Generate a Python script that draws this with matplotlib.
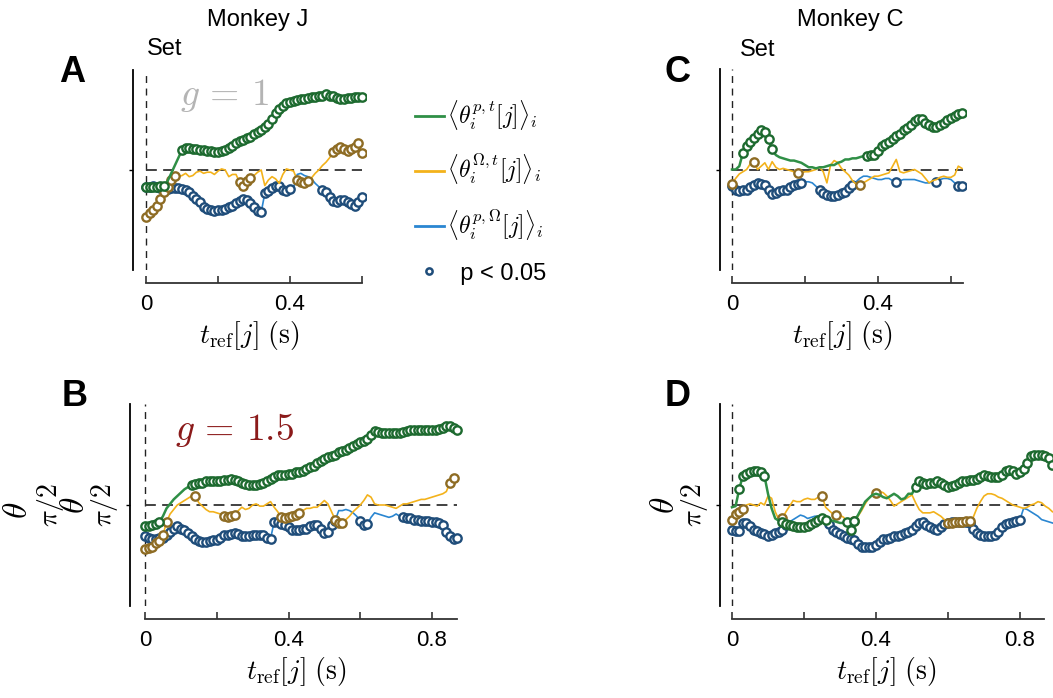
import numpy as np
import matplotlib.pyplot as plt
from matplotlib.lines import Line2D

plt.rcParams['font.family'] = ['Liberation Sans', 'DejaVu Sans']
plt.rcParams['mathtext.fontset'] = 'cm'

DT = 0.01  # sampling step of t_ref (s)

# angles in degrees, one value per DT starting at t = 0
# p,t = position/time ; O,t = Omega/time ; p,O = position/Omega

# A: Monkey J, g = 1
a_pt = [75, 75, 75, 75, 76, 76, 80, 87, 94, 101, 108, 110, 110, 109, 109, 108, 108, 107, 107, 106,
        106, 107, 108, 110, 112, 114, 116, 117, 119, 120, 122, 124, 126, 129, 131, 136, 141, 145, 148, 150,
        151, 152, 153, 154, 154, 155, 156, 156, 157, 157, 158, 157, 157, 155, 154, 154, 155, 155, 156, 156, 156]
a_ot = [48, 51, 54, 58, 64, 70, 75, 81, 85, 84, 85, 87, 84, 85, 88, 89, 87, 88, 88, 86,
        89, 91, 90, 84, 86, 86, 79, 76, 80, 83, 85, 88, 90, 76, 81, 84, 82, 78, 86, 91,
        90, 89, 81, 79, 78, 80, 83, 87, 90, 94, 97, 101, 106, 109, 111, 109, 107, 109, 111, 114, 105]
a_po = [75, 75, 76, 75, 74, 74, 73, 74, 74, 74, 73, 72, 70, 67, 64, 61, 57, 55, 54, 53,
        54, 54, 55, 57, 58, 60, 62, 64, 63, 60, 57, 53, 52, 69, 71, 74, 76, 76, 72, 71,
        73, 74, 86, 87, 85, 84, 82, 78, 75, 72, 70, 66, 62, 61, 63, 63, 61, 59, 58, 61, 66]
a_pt_sig = [(0.0, 0.05), (0.10, 0.60)]
a_ot_sig = [(0.0, 0.08), (0.26, 0.29), (0.42, 0.45), (0.52, 0.60)]
a_po_sig = [(0.0, 0.32), (0.33, 0.40), (0.49, 0.60)]

# B: Monkey J, g = 1.5
b_pt = [71, 71, 72, 73, 75, 80, 87, 91, 95, 98, 101, 104, 106, 108, 109, 110, 110, 111, 111, 111,
        111, 111, 112, 112, 113, 112, 111, 110, 109, 108, 108, 108, 109, 110, 111, 113, 115, 117, 117, 117,
        118, 118, 119, 119, 120, 122, 124, 125, 127, 129, 131, 133, 134, 135, 137, 138, 139, 141, 143, 144,
        146, 147, 149, 152, 156, 155, 154, 154, 154, 154, 154, 154, 155, 156, 157, 157, 157, 157, 157, 157,
        157, 157, 158, 159, 160, 160, 159, 157]
b_ot = [51, 52, 53, 56, 58, 63, 75, 82, 86, 90, 92, 94, 96, 98, 98, 92, 89, 86, 84, 84,
        83, 82, 80, 79, 80, 81, 85, 88, 86, 87, 90, 91, 89, 89, 91, 93, 88, 84, 79, 78,
        79, 80, 81, 83, 85, 87, 87, 88, 88, 91, 94, 91, 84, 77, 74, 74, 77, 80, 84, 87,
        90, 94, 99, 97, 91, 90, 90, 90, 89, 88, 87, 89, 91, 91, 92, 93, 94, 95, 95, 96,
        97, 98, 99, 100, 102, 110, 114, 111]
b_po = [62, 61, 60, 60, 61, 61, 63, 66, 69, 71, 69, 68, 65, 62, 60, 58, 57, 57, 58, 59,
        59, 61, 63, 63, 64, 65, 64, 62, 62, 62, 63, 63, 63, 63, 61, 60, 75, 75, 73, 72,
        70, 68, 68, 68, 69, 69, 71, 72, 72, 69, 65, 66, 72, 76, 85, 85, 86, 85, 83, 80,
        76, 72, 73, 79, 83, 82, 81, 80, 79, 80, 82, 80, 79, 78, 78, 77, 77, 76, 76, 76,
        75, 75, 74, 72, 66, 62, 60, 61]
b_pt_sig = [(0.0, 0.04), (0.13, 0.87)]
b_ot_sig = [(0.0, 0.06), (0.14, 0.14), (0.22, 0.25), (0.38, 0.43), (0.53, 0.55), (0.85, 0.86)]
b_po_sig = [(0.0, 0.35), (0.36, 0.53), (0.60, 0.62), (0.72, 0.87)]

# C: Monkey C, g = 1
c_pt = [90, 90, 93, 105, 111, 115, 118, 122, 125, 124, 117, 108, 103, 101, 100, 99, 98, 98, 97, 96,
        94, 92, 92, 91, 92, 92, 93, 94, 94, 96, 97, 99, 99, 100, 100, 101, 102, 102, 103, 103,
        107, 111, 113, 115, 117, 120, 122, 125, 127, 130, 133, 135, 135, 132, 130, 128, 128, 130, 132, 134,
        136, 138, 140, 141]
c_ot = [77, 82, 86, 88, 90, 95, 97, 90, 93, 96, 90, 97, 92, 90, 91, 90, 89, 88, 87, 87,
        88, 88, 89, 90, 92, 88, 78, 94, 98, 96, 91, 88, 85, 80, 77, 76, 78, 80, 82, 84,
        84, 85, 86, 87, 93, 99, 88, 87, 88, 89, 90, 88, 86, 82, 78, 80, 81, 83, 84, 83,
        83, 85, 93, 91]
c_po = [75, 72, 71, 72, 72, 74, 76, 78, 77, 76, 72, 68, 69, 71, 72, 72, 74, 76, 77, 78,
        79, 79, 78, 75, 72, 69, 67, 66, 66, 67, 69, 70, 73, 76, 79, 82, 84, 84, 83, 82,
        81, 81, 82, 82, 80, 79, 80, 81, 81, 81, 81, 80, 79, 78, 78, 79, 79, 81, 82, 82,
        81, 78, 75, 75]
c_pt_sig = [(0.03, 0.11), (0.37, 0.63)]
c_ot_sig = [(0.0, 0.0), (0.06, 0.06), (0.18, 0.18), (0.35, 0.35)]
c_po_sig = [(0.0, 0.19), (0.24, 0.33), (0.45, 0.45), (0.56, 0.56), (0.62, 0.63)]

# D: Monkey C, g = 1.5
d_pt = [88, 89, 104, 116, 118, 119, 120, 120, 119, 116, 100, 87, 78, 76, 75, 73, 72, 71, 70, 70,
        70, 71, 73, 75, 77, 78, 77, 76, 76, 75, 74, 74, 75, 68, 76, 81, 87, 93, 96, 99,
        100, 99, 97, 96, 98, 100, 98, 95, 96, 100, 100, 106, 111, 110, 109, 110, 110, 111, 110, 108,
        106, 107, 108, 110, 111, 111, 112, 112, 113, 115, 117, 116, 115, 115, 115, 117, 120, 121, 120, 118,
        119, 122, 127, 134, 135, 135, 135, 134, 132, 126]
d_ot = [77, 82, 84, 86, 90, 91, 90, 89, 92, 90, 98, 96, 84, 77, 78, 84, 89, 94, 93, 93,
        95, 96, 95, 95, 97, 98, 88, 85, 82, 81, 81, 79, 75, 76, 76, 80, 85, 91, 96, 99,
        101, 102, 101, 98, 94, 89, 91, 93, 95, 97, 99, 92, 86, 83, 83, 83, 84, 82, 80, 77,
        74, 74, 75, 75, 75, 76, 76, 79, 87, 93, 98, 100, 100, 99, 97, 96, 94, 92, 90, 89,
        88, 87, 88, 90, 91, 93, 92, 89, 87, 84]
d_po = [68, 67, 67, 74, 74, 71, 68, 67, 65, 64, 62, 63, 65, 66, 68, 72, 75, 77, 79, 81,
        80, 78, 79, 80, 80, 79, 76, 73, 68, 66, 64, 62, 61, 60, 59, 55, 53, 53, 53, 53,
        54, 57, 60, 60, 61, 62, 62, 63, 65, 66, 68, 71, 74, 75, 72, 70, 69, 68, 70, 73,
        74, 75, 75, 75, 75, 75, 74, 69, 65, 63, 62, 62, 62, 63, 66, 70, 73, 74, 75, 76,
        77, 87, 86, 84, 82, 80, 77, 76, 75, 74]
d_pt_sig = [(0.02, 0.09), (0.14, 0.26), (0.32, 0.34), (0.51, 0.89)]
d_ot_sig = [(0.0, 0.03), (0.14, 0.14), (0.25, 0.25), (0.29, 0.29), (0.34, 0.34), (0.40, 0.40), (0.60, 0.66)]
d_po_sig = [(0.0, 0.15), (0.27, 0.80)]

# line colour, marker edge colour, line width
STYLE = {
    'pt': ('#2f8f46', '#1d6a2f', 1.8),
    'ot': ('#f3b21b', '#8e6c24', 1.2),
    'po': ('#2a86d1', '#1f4d7a', 1.2),
}

W, H = 1053, 698
fig = plt.figure(figsize=(W / 100, H / 100), dpi=100)


def make_axes(left, top, bottom, t0_px, px_per_s, xmax, t_end, xticks, xlabels):
    xmin = (left - t0_px) / px_per_s
    right = left + (xmax - xmin) * px_per_s
    ax = fig.add_axes([left / W, 1 - bottom / H, (right - left) / W, (bottom - top) / H])
    ax.set_xlim(xmin, xmax)
    ax.set_ylim(0, np.pi)
    for s in ['top', 'right']:
        ax.spines[s].set_visible(False)
    ax.spines['left'].set_linewidth(1.3)
    ax.spines['bottom'].set_position(('outward', 9.4))
    ax.spines['bottom'].set_bounds(0, t_end)
    ax.spines['bottom'].set_linewidth(1.3)
    ax.spines['bottom'].set_color('#333333')
    ax.set_xticks(xticks)
    ax.set_xticklabels(xlabels)
    ax.tick_params(axis='x', direction='in', length=5, width=1.2, labelsize=16, pad=8, color='#333333')
    ax.set_yticks([np.pi / 2])
    ax.tick_params(axis='y', direction='out', length=3, width=1, labelsize=20, pad=4)
    ax.set_xlabel(r'$t_{\rm ref}[j]\ (\rm s)$', fontsize=20, labelpad=3)
    ax.axvline(0, color='#222222', lw=1.0, dashes=(5, 4))
    ax.plot([0, t_end], [np.pi / 2, np.pi / 2], color='#333333', lw=1.3, dashes=(6, 3.5))
    return ax


def draw_series(ax, vals, sig, key):
    line_c, mark_c, lw = STYLE[key]
    t = np.arange(len(vals)) * DT
    th = np.deg2rad(vals)
    ax.plot(t, th, color=line_c, lw=lw)
    mask = np.zeros(len(t), dtype=bool)
    for a, b in sig:
        mask |= (t > a - 1e-6) & (t < b + 1e-6)
    ax.plot(t[mask], th[mask], ls='none', marker='o', ms=6, mew=1.7, mec=mark_c, mfc='white')


def draw_panel(ax, pt, ot, po, pt_sig, ot_sig, po_sig):
    draw_series(ax, po, po_sig, 'po')
    draw_series(ax, ot, ot_sig, 'ot')
    draw_series(ax, pt, pt_sig, 'pt')


ticks6, labels6 = [0, 0.2, 0.4, 0.6], ['0', '', '0.4', '']
ticks8, labels8 = [0, 0.2, 0.4, 0.6, 0.8], ['0', '', '0.4', '', '0.8']

ax_a = make_axes(133, 70, 270, 146, 360, 0.61, 0.60, ticks6, labels6)
ax_b = make_axes(130, 404, 606, 145, 358.75, 0.885, 0.87, ticks8, labels8)
ax_c = make_axes(720, 69, 270, 732, 365, 0.64, 0.633, ticks6, labels6)
ax_d = make_axes(720, 404, 606, 732, 360, 0.892, 0.867, ticks8, labels8)

draw_panel(ax_a, a_pt, a_ot, a_po, a_pt_sig, a_ot_sig, a_po_sig)
draw_panel(ax_b, b_pt, b_ot, b_po, b_pt_sig, b_ot_sig, b_po_sig)
draw_panel(ax_c, c_pt, c_ot, c_po, c_pt_sig, c_ot_sig, c_po_sig)
draw_panel(ax_d, d_pt, d_ot, d_po, d_pt_sig, d_ot_sig, d_po_sig)

for ax in [ax_a, ax_c]:
    ax.set_yticklabels([''])
for ax in [ax_b, ax_d]:
    ax.set_yticklabels([r'$\pi/2$'], rotation=90, va='center')
    ax.set_ylabel(r'$\theta$', fontsize=24)
    ax.yaxis.set_label_coords(-39 / 330, 0.5)

ax_a.text(0.094, np.deg2rad(157), r'$g\,=\,1$', color='#b4b4b4', fontsize=27, va='center', ha='left')
ax_b.text(0.084, np.deg2rad(157), r'$g\,=\,1.5$', color='#8b1a1a', fontsize=27, va='center', ha='left')

# titles, panel letters and event marker
fig.text(258 / W, 1 - 20 / H, 'Monkey J', ha='center', va='center', fontsize=17)
fig.text(850 / W, 1 - 20 / H, 'Monkey C', ha='center', va='center', fontsize=17)
fig.text(147 / W, 1 - 49 / H, 'Set', ha='left', va='center', fontsize=17)
fig.text(740 / W, 1 - 50 / H, 'Set', ha='left', va='center', fontsize=17)
for letter, x, y in [('A', 72, 72), ('B', 75, 397), ('C', 678, 72), ('D', 678, 397)]:
    fig.text(x / W, 1 - y / H, letter, ha='center', va='center', fontsize=26, fontweight='bold')

# leftover axis labels next to panel B
fig.text(18 / W, 1 - 510 / H, r'$\theta$', rotation=90, ha='center', va='center', fontsize=24)
fig.text(51 / W, 1 - 505 / H, r'$\pi/2$', rotation=90, ha='center', va='center', fontsize=20)

handles = [
    Line2D([], [], color=STYLE['pt'][0], lw=2),
    Line2D([], [], color=STYLE['ot'][0], lw=2),
    Line2D([], [], color=STYLE['po'][0], lw=2),
    Line2D([], [], ls='none', marker='o', ms=4.5, mew=1.8, mec=STYLE['po'][1], mfc='white'),
]
labels = [
    r'$\langle\theta_i^{p,t}[j]\rangle_i$',
    r'$\langle\theta_i^{\Omega,t}[j]\rangle_i$',
    r'$\langle\theta_i^{p,\Omega}[j]\rangle_i$',
    '  p < 0.05',
]
leg = fig.legend(handles, labels, loc='upper left', bbox_to_anchor=(394 / W, 1 - 77 / H), frameon=False,
                 fontsize=17, labelspacing=0.85, handlelength=1.2, handletextpad=0.15)
leg.get_texts()[3].set_fontsize(17)

fig.savefig('out.png', dpi=100)
